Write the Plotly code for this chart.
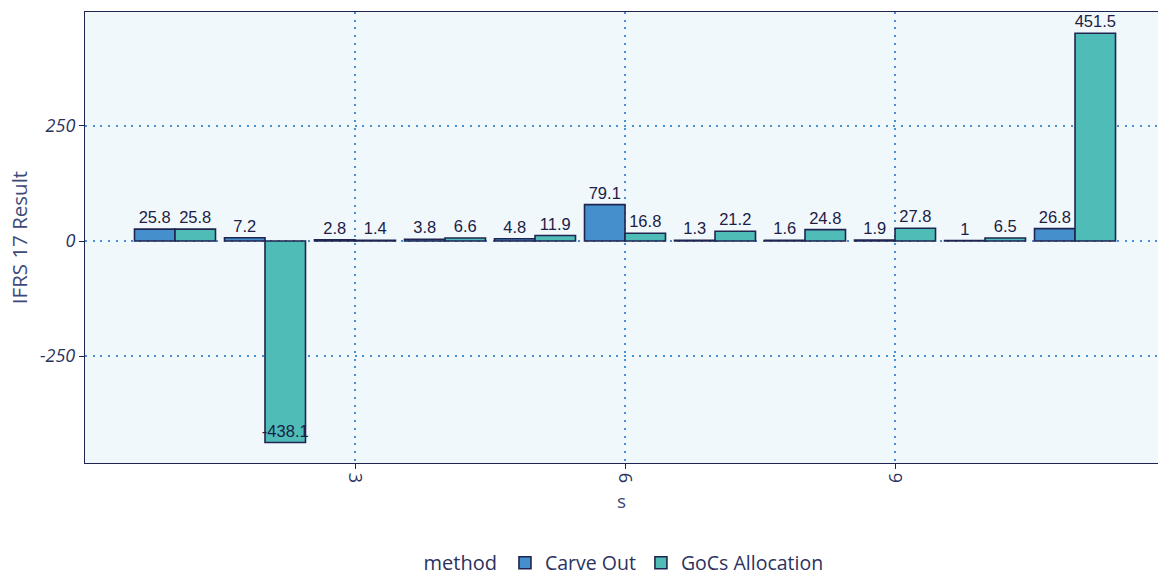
import plotly.graph_objects as go

# IFRS 17 results per segment, by allocation method
segments = [1, 2, 3, 4, 5, 6, 7, 8, 9, 10, 11]
carve_out = [25.8, 7.2, 2.8, 3.8, 4.8, 79.1, 1.3, 1.6, 1.9, 1, 26.8]
gocs_allocation = [25.8, -438.1, 1.4, 6.6, 11.9, 16.8, 21.2, 24.8, 27.8, 6.5, 451.5]
x_ticks = [3, 6, 9]
y_ticks = [-250, 0, 250]

NAVY = "#1f2550"
TEXT = "#2b325e"
TITLE = "#3d4a7a"
GRID = "#4a90d8"
LABEL_FONT = dict(family="Liberation Sans, Arial, sans-serif", size=16.5, color="#1c2045")


def positions(values):
    # negative bars carry their label inside, at the far end
    return ["inside" if v < 0 else "outside" for v in values]


def add_series(name, values, color):
    fig.add_trace(go.Bar(
        x=segments, y=values, name=name,
        marker=dict(color=color, line=dict(color=NAVY, width=1.6)),
        text=[f"{v:g}" for v in values], textposition=positions(values),
        insidetextanchor="end", textangle=0, textfont=LABEL_FONT,
        outsidetextfont=LABEL_FONT, insidetextfont=LABEL_FONT,
        constraintext="none", cliponaxis=False,
    ))


fig = go.Figure()
add_series("Carve Out", carve_out, "#458fcc")
add_series("GoCs Allocation", gocs_allocation, "#4fbcb8")

grid = dict(showgrid=True, gridcolor=GRID, griddash="2px,5.7px", gridwidth=2, zeroline=False)

fig.update_layout(
    width=1158, height=573,
    margin=dict(l=85, r=0, t=12, b=110, autoexpand=False),
    barmode="group", bargap=0.1, bargroupgap=0,
    paper_bgcolor="white", plot_bgcolor="#f1f8fc",
    font=dict(family="Open Sans, Noto Sans, sans-serif", color=TEXT),
    legend=dict(
        orientation="h", x=0.5033, xanchor="center", y=-0.222, yanchor="middle",
        title=dict(text="method", font=dict(size=20, color=TEXT)),
        font=dict(size=19.5, color=TEXT),
    ),
    xaxis=dict(
        range=[0, 11.922], tickvals=x_ticks, ticktext=[str(t) for t in x_ticks],
        tickangle=90, tickfont=dict(size=18, color=TEXT),
        ticks="outside", ticklen=5, tickcolor=NAVY,
        showline=True, linecolor=NAVY, linewidth=1.2, mirror=True,
        title=dict(text="s", font=dict(size=19, color=TITLE), standoff=12),
        **grid,
    ),
    yaxis=dict(
        range=[-482.6, 497.8], tickvals=y_ticks, ticktext=[str(t) for t in y_ticks],
        tickfont=dict(size=18, color=TEXT, style="italic"),
        ticks="outside", ticklen=5, tickcolor=NAVY,
        showline=True, linecolor=NAVY, linewidth=1.2,
        title=dict(text="IFRS 17 Result", font=dict(size=20.5, color=TITLE), standoff=6),
        **grid,
    ),
)

fig.write_html("out.html")
